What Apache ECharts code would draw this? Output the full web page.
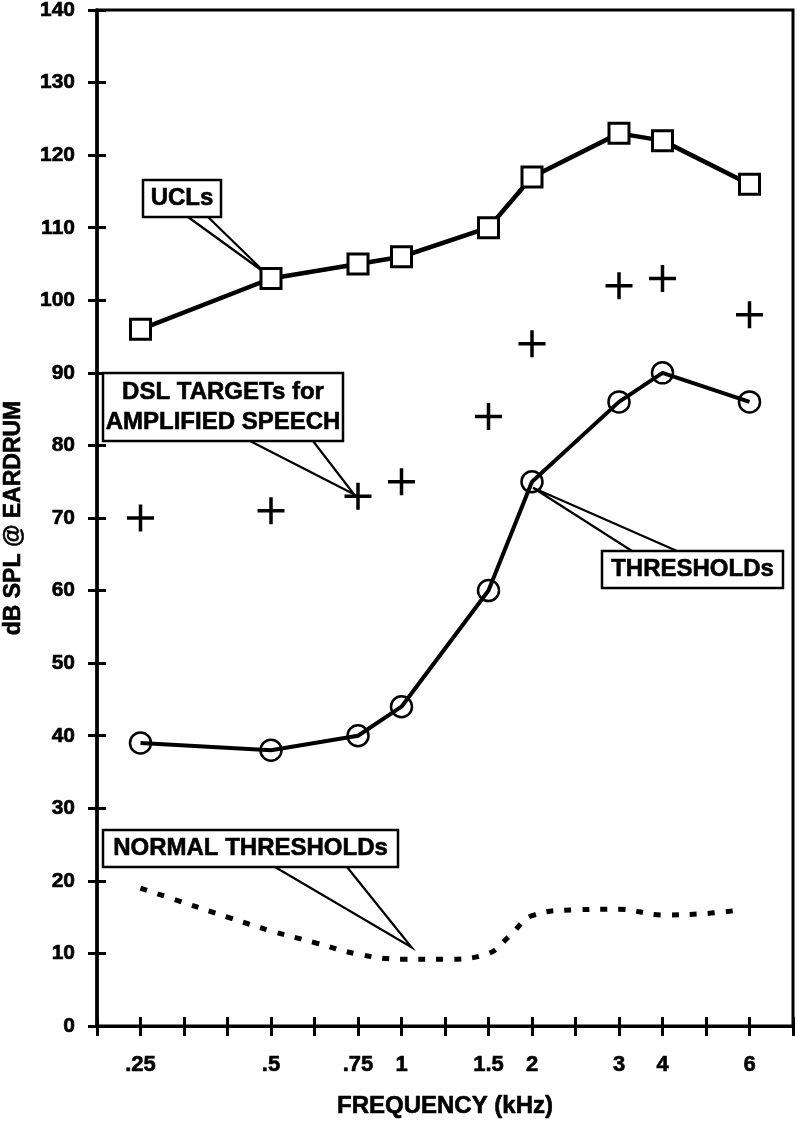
<!DOCTYPE html>
<html>
<head>
<meta charset="utf-8">
<script src="https://cdn.jsdelivr.net/npm/echarts@6/dist/echarts.min.js"></script>
<style>
  html, body { margin: 0; padding: 0; background: #fff; }
  #chart { width: 797px; height: 1121px; }
</style>
</head>
<body>
<div id="chart"></div>
<script>
// Evenly spaced frequency tick positions (kHz); '' = unlabelled tick
const tickLabels = ['', '.25', '', '', '.5', '', '.75', '1', '', '1.5', '2', '', '3', '4', '', '6', ''];
// Measured frequencies
const frequencies = ['.25', '.5', '.75', '1', '1.5', '2', '3', '4', '6'];
const ucls       = [96, 103, 105, 106, 110, 117, 123, 122, 116];
const dslTargets = [70, 71, 73, 75, 84, 94, 102, 103, 98];
const thresholds = [39, 38, 40, 44, 60, 75, 86, 90, 86];
// Normal thresholds curve, sampled on the tick-position scale
const normalPos  = [1, 2, 3, 4, 5, 6, 7, 8, 9, 9.5, 10, 11, 12, 13, 14, 14.8];
const normalVals = [19, 17, 15, 13.1, 11.5, 9.9, 9.2, 9.2, 10, 12.5, 15.2, 16, 16.1, 15.3, 15.5, 16];
const yTicks = { min: 0, max: 140, interval: 10 };

const FONT = 'Liberation Sans, Arial, sans-serif';
const pos = f => tickLabels.indexOf(f);
const pairs = vals => frequencies.map((f, i) => [pos(f), vals[i]]);

const chart = echarts.init(document.getElementById('chart'), null, { renderer: 'canvas' });

const xBase = {
  type: 'value', min: 0, max: tickLabels.length - 1, interval: 1,
  position: 'bottom', splitLine: { show: false }
};
const yBase = {
  type: 'value', min: yTicks.min, max: yTicks.max, interval: yTicks.interval,
  position: 'left', splitLine: { show: false }
};
const heavy = { textBorderColor: '#000', textBorderWidth: 0.6 };

chart.setOption({
  animation: false,
  backgroundColor: '#fff',
  grid: {
    left: 97, right: 4, top: 10, bottom: 95, containLabel: false, outerBoundsMode: 'none',
    show: true, borderColor: '#000', borderWidth: 3, backgroundColor: 'transparent'
  },
  xAxis: [
    Object.assign({}, xBase, {
      name: 'FREQUENCY (kHz)', nameLocation: 'middle', nameGap: 68,
      nameTextStyle: Object.assign({ fontFamily: FONT, fontWeight: 'bold', fontSize: 24, color: '#000' }, heavy),
      axisLine: { show: true, lineStyle: { color: '#000', width: 3 } },
      axisTick: { show: true, length: 10, inside: false, lineStyle: { color: '#000', width: 3 } },
      axisLabel: Object.assign({
        show: true, margin: 28, fontFamily: FONT, fontWeight: 'bold', fontSize: 22, color: '#000',
        formatter: v => tickLabels[Math.round(v)] || ''
      }, heavy)
    }),
    Object.assign({}, xBase, {
      axisLine: { show: false },
      axisTick: { show: true, length: 9, inside: true, lineStyle: { color: '#000', width: 3 } },
      axisLabel: { show: false }
    })
  ],
  yAxis: [
    Object.assign({}, yBase, {
      name: 'dB SPL @ EARDRUM', nameLocation: 'middle', nameGap: 72, nameRotate: 90,
      nameTextStyle: Object.assign({ fontFamily: FONT, fontWeight: 'bold', fontSize: 23, color: '#000' }, heavy),
      axisLine: { show: true, lineStyle: { color: '#000', width: 3.5 } },
      axisTick: { show: true, length: 9, inside: false, lineStyle: { color: '#000', width: 3 } },
      axisLabel: Object.assign({ show: true, margin: 22, fontFamily: FONT, fontWeight: 'bold', fontSize: 21, color: '#000' }, heavy)
    }),
    Object.assign({}, yBase, {
      axisLine: { show: false },
      axisTick: { show: true, length: 9, inside: true, lineStyle: { color: '#000', width: 3 } },
      axisLabel: { show: false }
    })
  ],
  series: [
    {
      name: 'NORMAL THRESHOLDs', type: 'line', smooth: 0.4, symbol: 'none',
      data: normalPos.map((p, i) => [p, normalVals[i]]),
      lineStyle: { color: '#000', width: 5, type: [7, 11] }, z: 3
    },
    {
      name: 'THRESHOLDs', type: 'line', symbol: 'circle', symbolSize: 21,
      data: pairs(thresholds),
      lineStyle: { color: '#000', width: 4 },
      itemStyle: { color: 'rgba(0,0,0,0)', borderColor: '#000', borderWidth: 2.5 }, z: 4
    },
    {
      name: 'UCLs', type: 'line', symbol: 'rect', symbolSize: 20,
      data: pairs(ucls),
      lineStyle: { color: '#000', width: 4.5 },
      itemStyle: { color: '#fff', borderColor: '#000', borderWidth: 3 }, z: 4
    },
    {
      name: 'DSL TARGETs for AMPLIFIED SPEECH', type: 'scatter',
      symbol: 'path://M11.75,0h3.5v11.75h11.75v3.5h-11.75v11.75h-3.5v-11.75h-11.75v-3.5h11.75z',
      symbolSize: 27,
      data: pairs(dslTargets),
      itemStyle: { color: '#000', borderWidth: 0, opacity: 1 }, z: 4
    }
  ]
});

const px = (x, y) => chart.convertToPixel({ xAxisIndex: 0, yAxisIndex: 0 }, [x, y]);
const tipAt = (x, y, dx, dy) => { const p = px(x, y); return [p[0] + dx, p[1] + dy]; };

function callout(box, lines, base1, base2, tip) {
  const els = [];
  els.push({
    type: 'polyline', z: 1,
    shape: { points: [base1, tip, base2] },
    style: { stroke: '#000', lineWidth: 2.2, fill: null }
  });
  els.push({
    type: 'rect', z: 2,
    shape: { x: box[0], y: box[1], width: box[2], height: box[3] },
    style: { fill: '#fff', stroke: '#000', lineWidth: 2.5 }
  });
  const lh = 30;
  const cx = box[0] + box[2] / 2;
  const cy0 = box[1] + box[3] / 2 - (lines.length - 1) * lh / 2;
  lines.forEach((t, i) => {
    els.push({
      type: 'text', z: 3, x: cx, y: cy0 + i * lh,
      style: {
        text: t, fill: '#000', font: 'bold 24px ' + FONT,
        stroke: '#000', lineWidth: 0.6,
        align: 'center', verticalAlign: 'middle'
      }
    });
  });
  return els;
}

const g = [].concat(
  callout([143, 180, 78, 37], ['UCLs'], [188, 217], [208, 217],
    tipAt(pos('.5'), ucls[1], -5, -5)),
  callout([103, 373, 240, 68], ['DSL TARGETs for', 'AMPLIFIED SPEECH'], [250, 441], [313, 441],
    tipAt(pos('.75'), dslTargets[2], -4, -2)),
  callout([602, 551, 181, 37], ['THRESHOLDs'], [632, 551], [677, 551],
    tipAt(pos('2'), thresholds[5], 1, 6)),
  callout([103, 830, 295, 37], ['NORMAL THRESHOLDs'], [275, 867], [347, 867],
    tipAt(pos('1'), normalVals[6], 10, -12))
);
chart.setOption({ graphic: g });
</script>
</body>
</html>
